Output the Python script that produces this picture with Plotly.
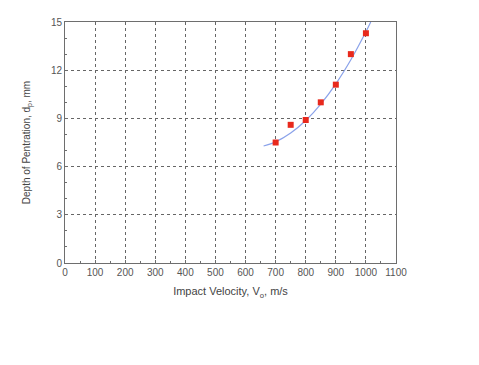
import plotly.graph_objects as go

# measured data
velocity = [700, 750, 800, 850, 900, 950, 1000]
depth = [7.5, 8.6, 8.9, 10.0, 11.1, 13.0, 14.3]

# fitted curve
fit_velocity = [660, 700, 750, 800, 850, 900, 950, 1000, 1016]
fit_depth = [7.28, 7.54, 8.09, 8.87, 9.89, 11.15, 12.65, 14.39, 15.0]

x_ticks = list(range(0, 1101, 100))
y_ticks = [0, 3, 6, 9, 12, 15]

fig = go.Figure()
fig.add_trace(go.Scatter(x=fit_velocity, y=fit_depth, mode="lines",
                         line=dict(color="#8aa2ea", width=1.2, shape="spline"),
                         showlegend=False, hoverinfo="skip"))
fig.add_trace(go.Scatter(x=velocity, y=depth, mode="markers",
                         marker=dict(symbol="square", size=6, color="#e8291c"),
                         showlegend=False))

axis_common = dict(showline=True, linecolor="#6e6e6e", linewidth=1, mirror=True,
                   showgrid=True, gridcolor="#666666", griddash="dot", gridwidth=1,
                   ticks="inside", ticklen=3, tickcolor="#6e6e6e", zeroline=False,
                   tickfont=dict(family="Liberation Sans, Arial", size=10, color="#555555"))

fig.update_xaxes(range=[0, 1100], tickvals=x_ticks, ticktext=[str(v) for v in x_ticks],
                 minor=dict(dtick=50, ticks="inside", ticklen=2, tickcolor="#6e6e6e", showgrid=False),
                 title=dict(text="Impact Velocity, V<sub>o</sub>, m/s", standoff=10,
                            font=dict(family="Liberation Sans, Arial", size=11, color="#444444")),
                 **axis_common)
fig.update_yaxes(range=[0, 15], tickvals=y_ticks, ticktext=[str(v) for v in y_ticks],
                 minor=dict(dtick=1, ticks="inside", ticklen=2, tickcolor="#6e6e6e", showgrid=False),
                 title=dict(text="Depth of Pentration, d<sub>p</sub>, mm", standoff=18,
                            font=dict(family="Liberation Sans, Arial", size=10, color="#444444")),
                 **axis_common)

fig.update_layout(width=479, height=365, margin=dict(l=57, r=91, t=8, b=110),
                  plot_bgcolor="white", paper_bgcolor="white")

fig.write_html("out.html")
